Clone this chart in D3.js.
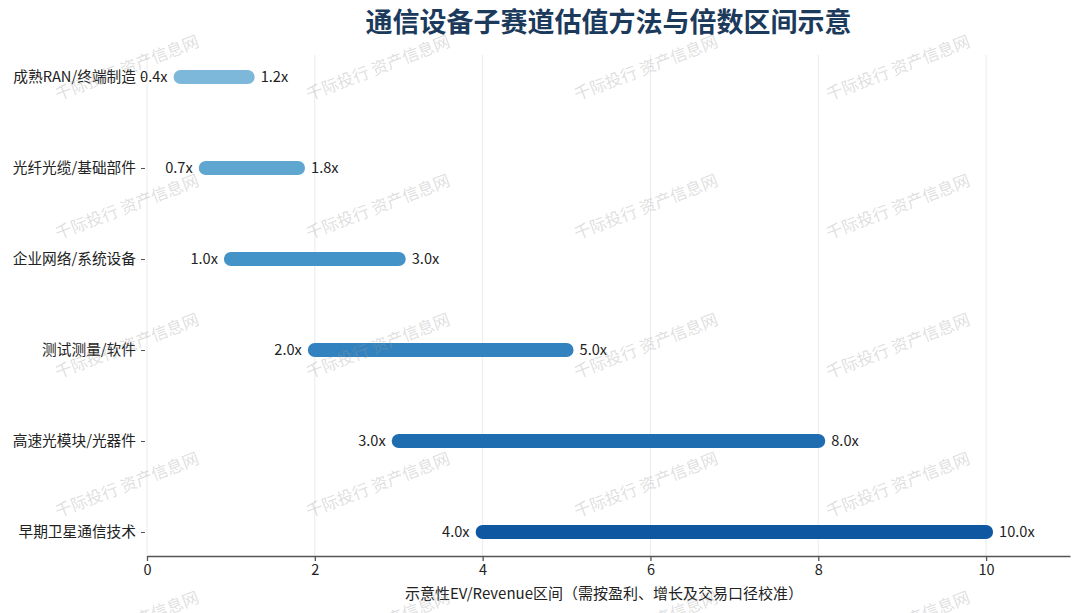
<!DOCTYPE html>
<html>
<head>
<meta charset="utf-8">
<script src="https://cdn.jsdelivr.net/npm/d3@7"></script>
<style>
  body { margin: 0; background: #fff; }
  svg { display: block; font-family: "Noto Sans CJK SC", "Noto Sans", sans-serif; }
</style>
</head>
<body>
<div id="chart"></div>
<script>
// data
const categories = ["成熟RAN/终端制造", "光纤光缆/基础部件", "企业网络/系统设备", "测试测量/软件", "高速光模块/光器件", "早期卫星通信技术"];
const lowValues  = [0.4, 0.7, 1.0, 2.0, 3.0, 4.0];
const highValues = [1.2, 1.8, 3.0, 5.0, 8.0, 10.0];
const xTicks = [0, 2, 4, 6, 8, 10];
const barColors = ["#7db8da", "#5fa6d1", "#4493c8", "#3282bf", "#1f6db1", "#0f57a0"];

const width = 1080, height = 613;
const margin = {top: 55, right: 10, bottom: 57, left: 147};

const svg = d3.select("#chart").append("svg")
    .attr("width", width)
    .attr("height", height);

const x = d3.scaleLinear()
    .domain([0, 11])
    .range([margin.left, width - margin.right]);

const y = d3.scalePoint()
    .domain(categories)
    .range([77, 532]);

const plotBottom = height - margin.bottom;

// vertical grid
svg.append("g")
  .selectAll("line")
  .data(xTicks)
  .join("line")
    .attr("x1", d => x(d)).attr("x2", d => x(d))
    .attr("y1", margin.top).attr("y2", plotBottom)
    .attr("stroke", "#ebebeb")
    .attr("stroke-width", 1);

// x axis
const xAxis = svg.append("g")
    .attr("transform", `translate(0,${plotBottom})`)
    .call(d3.axisBottom(x).tickValues(xTicks).tickSize(5).tickPadding(4).tickSizeOuter(0));
xAxis.select(".domain").attr("stroke", "#555").attr("stroke-width", 1.6);
xAxis.selectAll(".tick line").attr("stroke", "#555").attr("stroke-width", 1.3);
xAxis.selectAll("text").attr("font-size", 14.5).attr("fill", "#222")
    .attr("font-family", "Noto Sans CJK SC");

// y axis (labels + small ticks, no line)
const yAxis = svg.append("g")
    .attr("transform", `translate(${margin.left - 2},0)`)
    .call(d3.axisLeft(y).tickSize(4).tickPadding(5));
yAxis.select(".domain").remove();
yAxis.selectAll(".tick line").attr("stroke", "#555");
yAxis.selectAll("text").attr("font-size", 14.7).attr("fill", "#222")
    .attr("font-family", "Noto Sans CJK SC");

// range bars
const rows = categories.map((c, i) => ({cat: c, lo: lowValues[i], hi: highValues[i], color: barColors[i]}));

svg.append("g")
  .selectAll("line")
  .data(rows)
  .join("line")
    .attr("x1", d => x(d.lo)).attr("x2", d => x(d.hi))
    .attr("y1", d => y(d.cat)).attr("y2", d => y(d.cat))
    .attr("stroke", d => d.color)
    .attr("stroke-width", 14)
    .attr("stroke-linecap", "round");

// value labels
const fmt = v => v.toFixed(1) + "x";
svg.append("g")
  .selectAll("text")
  .data(rows)
  .join("text")
    .attr("x", d => x(d.lo) - 13)
    .attr("y", d => y(d.cat))
    .attr("dy", "0.35em")
    .attr("text-anchor", "end")
    .attr("font-size", 14.6)
    .attr("fill", "#222")
    .text(d => fmt(d.lo));

svg.append("g")
  .selectAll("text")
  .data(rows)
  .join("text")
    .attr("x", d => x(d.hi) + 13)
    .attr("y", d => y(d.cat))
    .attr("dy", "0.35em")
    .attr("text-anchor", "start")
    .attr("font-size", 14.6)
    .attr("fill", "#222")
    .text(d => fmt(d.hi));

// title
svg.append("text")
    .attr("x", (margin.left + width - margin.right) / 2)
    .attr("y", 32)
    .attr("text-anchor", "middle")
    .attr("font-size", 27)
    .attr("font-weight", "bold")
    .attr("fill", "#1b3a5c")
    .text("通信设备子赛道估值方法与倍数区间示意");

// x axis title
svg.append("text")
    .attr("x", 604)
    .attr("y", 599)
    .attr("text-anchor", "middle")
    .attr("font-size", 15)
    .attr("fill", "#222")
    .text("示意性EV/Revenue区间（需按盈利、增长及交易口径校准）");

// watermark tiles
const wmCols = [127, 378, 646, 898];
const wmRows = [68, 207, 346, 485, 624];
const wm = svg.append("g").attr("pointer-events", "none");
wmRows.forEach(cy => {
  wmCols.forEach(cx => {
    wm.append("text")
      .attr("transform", `translate(${cx},${cy}) rotate(-21)`)
      .attr("text-anchor", "middle")
      .attr("dy", "0.35em")
      .attr("font-size", 16.5)
      .attr("fill", "#9a9a9a")
      .attr("fill-opacity", 0.33)
      .text("千际投行 资产信息网");
  });
});
</script>
</body>
</html>
